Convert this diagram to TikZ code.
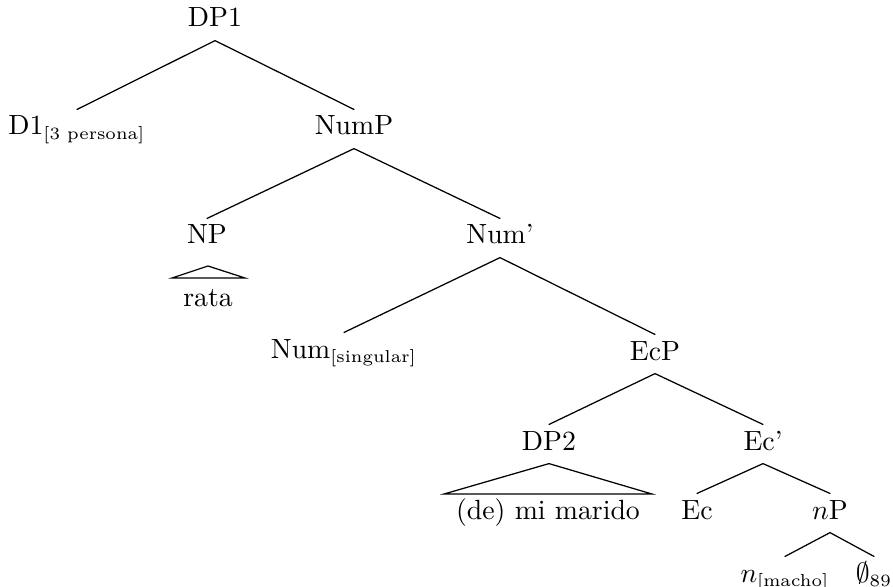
\documentclass[tikz,border=0pt]{standalone}
\usepackage{amsmath}
\newcommand{\subtx}[1]{\text{\fontsize{6.2}{7}\selectfont #1}}
\begin{document}
\begin{tikzpicture}[x=0.36pt,y=-0.36pt,
  lbl/.style={anchor=base,inner xsep=0pt,inner ysep=2.2pt,text height=6.8pt,text depth=2.5pt,font=\fontsize{10}{12}\selectfont},
  br/.style={line width=0.45pt,line cap=round}]
\useasboundingbox (0,0) rectangle (893,587);
\node[lbl] (dp1) at (215,27) {DP1};
\node[lbl] (d1) at (77,135) {D1$_{\subtx{[3 persona]}}$};
\node[lbl] (nump) at (354,135) {NumP};
\node[lbl] (np) at (207,244) {NP};
\node[lbl] (numbar) at (500,244) {Num'};
\node[lbl] (rata) at (208,306) {rata};
\node[lbl] (num) at (344,358) {Num$_{\subtx{[singular]}}$};
\node[lbl] (ecp) at (655,360) {EcP};
\node[lbl] (dp2) at (549,450) {DP2};
\node[lbl] (ecbar) at (763,450) {Ec'};
\node[lbl] (mimarido) at (548,519) {(de) mi marido};
\node[lbl] (ec) at (697,519) {Ec};
\node[lbl] (np2) at (830,519) {$n$P};
\node[lbl] (nmacho) at (785,582) {$n_{\subtx{[macho]}}$};
\node[lbl] (empty) at (874,582) {$\emptyset_{\subtx{89}}$};
\coordinate (npapex) at (208,266);
\coordinate (npl) at (172,278);
\coordinate (npr) at (245,278);
\coordinate (dp2l) at (444,494);
\coordinate (dp2r) at (652,494);
\draw[br] (d1.north) -- (dp1.south) -- (nump.north);
\draw[br] (np.north) -- (nump.south) -- (numbar.north);
\draw[br] (num.north) -- (numbar.south) -- (ecp.north);
\draw[br] (dp2.north) -- (ecp.south) -- (ecbar.north);
\draw[br] (ec.north) -- (ecbar.south) -- (np2.north);
\draw[br] (nmacho.north) -- (np2.south) -- (empty.north);
\draw[br] (npl) -- (npapex) -- (npr) -- cycle;
\draw[br] (dp2l) -- (dp2.south) -- (dp2r) -- cycle;
\end{tikzpicture}
\end{document}
